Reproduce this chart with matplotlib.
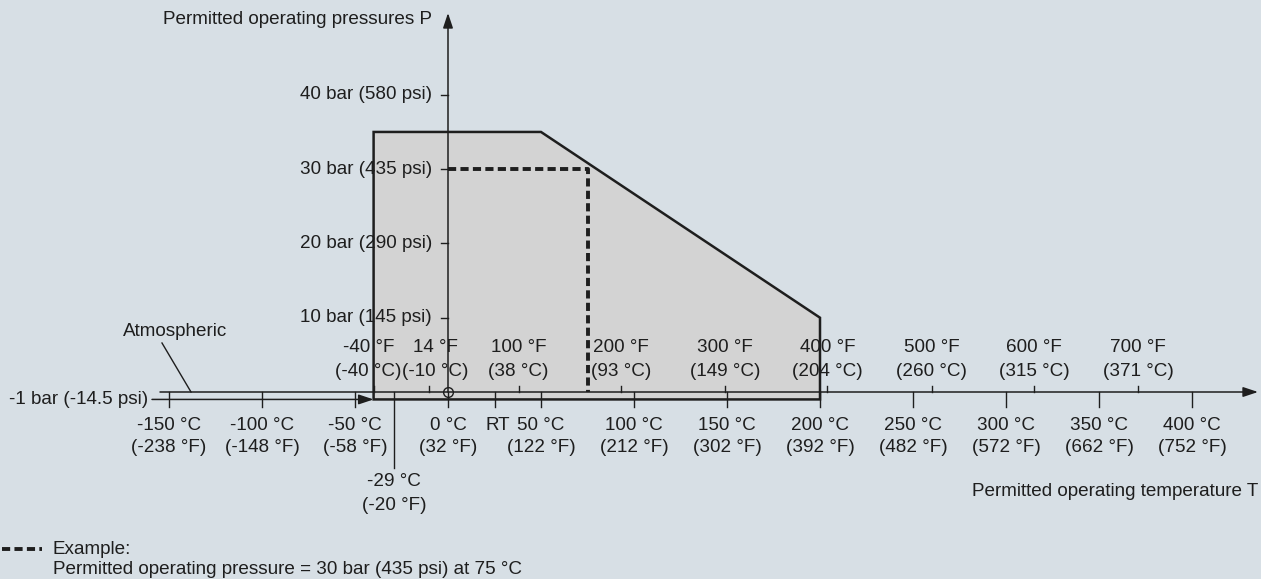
import numpy as np
import matplotlib.pyplot as plt

plt.rcParams['font.family'] = ['Liberation Sans', 'DejaVu Sans']

# data
env_temp = [-40, -40, 50, 200, 200]      # degC, permitted envelope
env_press = [-1, 35, 35, 10, -1]         # bar
example_temp = 75
example_press = 30

c_ticks = [-150, -100, -50, 0, 50, 100, 150, 200, 250, 300, 350, 400]
c_labels_f = ['-238', '-148', '-58', '32', '122', '212', '302', '392', '482', '572', '662', '752']
f_ticks_c = [-40, -10, 38, 93, 149, 204, 260, 315, 371]
f_labels = ['-40', '14', '100', '200', '300', '400', '500', '600', '700']
f_labels_c = ['-40', '-10', '38', '93', '149', '204', '260', '315', '371']
p_ticks = [10, 20, 30, 40]
p_labels_psi = ['145', '290', '435', '580']
rt_temp = 25
min_temp = -29

# pixel layout helpers (0 degC at x=448px, 0 bar at y=392px)
W, H = 1261, 579
X0, SX = 448, 1.86     # px per degC
Y0, SY = 392, 7.43     # px per bar


def px(x):
    return (x - X0) / SX


def py(y):
    return (Y0 - y) / SY


bg = '#d7dfe5'
ink = '#1e1e1e'
fs = 13.6
dash = (2.1, 1.1)

fig = plt.figure(figsize=(W / 100, H / 100), dpi=100)
fig.patch.set_facecolor(bg)
ax = fig.add_axes([0, 0, 1, 1])
ax.set_facecolor(bg)
ax.set_xlim(px(0), px(W))
ax.set_ylim(py(H), py(0))
ax.axis('off')

# envelope
ax.fill(env_temp, env_press, facecolor='#d3d3d3', edgecolor=ink, lw=1.8, zorder=2)

# example dashed
ax.plot([0, example_temp, example_temp], [example_press, example_press, 0],
        color=ink, lw=2.8, dashes=dash, zorder=4)

arrow = dict(arrowstyle='-|>,head_length=0.9,head_width=0.3', color=ink, lw=1.1,
             shrinkA=0, shrinkB=0)
# temperature axis (0 bar)
ax.annotate('', xy=(px(1258), 0), xytext=(px(160), 0), arrowprops=arrow, zorder=3)
# -1 bar line
ax.annotate('', xy=(env_temp[0], -1), xytext=(px(152), -1), arrowprops=arrow, zorder=3)
# pressure axis
ax.annotate('', xy=(0, py(13)), xytext=(0, 0), arrowprops=arrow, zorder=3)
ax.plot([0], [0], marker='o', ms=7, mfc='none', mec=ink, mew=1, zorder=5)

# pressure ticks
for p, psi in zip(p_ticks, p_labels_psi):
    ax.plot([px(441), 0], [p, p], color=ink, lw=1, zorder=3)
    ax.text(px(432), p, f'{p} bar ({psi} psi)', ha='right', va='center', fontsize=fs, color=ink, zorder=6)
ax.text(px(148), -1, '-1 bar (-14.5 psi)', ha='right', va='center', fontsize=fs, color=ink)

# degC ticks below axis
for t, f in zip(c_ticks, c_labels_f):
    ax.plot([t, t], [0, py(407)], color=ink, lw=1, zorder=3)
    ax.text(t, py(425), f'{t} °C', ha='center', va='center', fontsize=fs, color=ink)
    ax.text(t, py(448), f'({f} °F)', ha='center', va='center', fontsize=fs, color=ink)
ax.plot([rt_temp, rt_temp], [0, py(407)], color=ink, lw=1, zorder=3)
ax.text(rt_temp + 3 / SX, py(425), 'RT', ha='center', va='center', fontsize=fs, color=ink)

# degF ticks above axis (the two leftmost labels are nudged apart)
nudge = {-40: -5, -10: 6}
for t, f, fc in zip(f_ticks_c, f_labels, f_labels_c):
    ax.plot([t, t], [0, py(386)], color=ink, lw=1, zorder=3)
    tx = t + nudge.get(t, 0) / SX
    ax.text(tx, py(348), f'{f} °F', ha='center', va='center', fontsize=fs, color=ink, zorder=6)
    ax.text(tx, py(372), f'({fc} °C)', ha='center', va='center', fontsize=fs, color=ink, zorder=6)

# minimum temperature marker
ax.plot([min_temp, min_temp], [0, py(468)], color=ink, lw=1, zorder=3)
ax.text(min_temp, py(482), f'{min_temp} °C', ha='center', va='center', fontsize=fs, color=ink)
ax.text(min_temp, py(505), '(-20 °F)', ha='center', va='center', fontsize=fs, color=ink)

# atmospheric
ax.text(px(175), py(331), 'Atmospheric', ha='center', va='center', fontsize=fs, color=ink)
ax.plot([px(162), px(191)], [py(343), 0], color=ink, lw=1)

# axis titles
ax.text(px(432), py(20), 'Permitted operating pressures P', ha='right', va='center', fontsize=fs, color=ink)
ax.text(px(1258), py(492), 'Permitted operating temperature T', ha='right', va='center', fontsize=fs, color=ink)

# legend note
ax.plot([px(2), px(42)], [py(549), py(549)], color=ink, lw=2.8, dashes=dash)
ax.text(px(53), py(549), 'Example:', ha='left', va='center', fontsize=fs, color=ink)
ax.text(px(53), py(569), 'Permitted operating pressure = 30 bar (435 psi) at 75 °C',
        ha='left', va='center', fontsize=fs, color=ink)

fig.savefig('out.png', dpi=100, facecolor=bg)
